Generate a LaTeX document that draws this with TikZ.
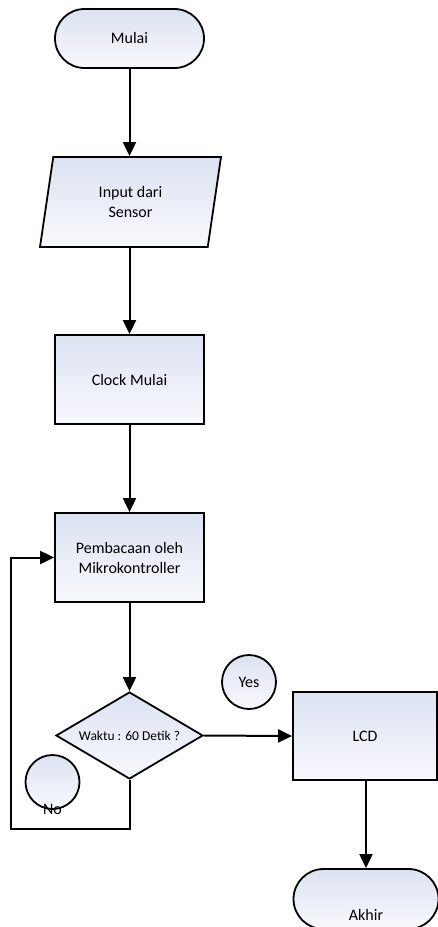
\documentclass[tikz,border=0pt]{standalone}
\usepackage{fontspec}
\setmainfont{Carlito}
\usetikzlibrary{shapes.geometric,shapes.misc,arrows.meta}
\definecolor{fillA}{RGB}{220,226,241}
\definecolor{fillB}{RGB}{248,249,253}
\tikzset{
  base/.style={draw=black, line width=1.8pt, top color=fillA, bottom color=fillB, font=\fontsize{16}{20}\selectfont, align=center, inner sep=0pt},
  term/.style={base, rounded rectangle},
  proc/.style={base, rectangle},
  io/.style={base, trapezium, trapezium left angle=67, trapezium right angle=113, trapezium stretches body=true},
  dec/.style={base, diamond, font=\fontsize{13.5}{16}\selectfont},
  conn/.style={base, circle, minimum size=54pt},
  arr/.style={line width=2pt, -{Triangle[length=14pt,width=13pt]}},
  ln/.style={line width=2pt}
}
\begin{document}
\begin{tikzpicture}[x=1pt,y=-1pt]
\useasboundingbox[fill=white] (0,0) rectangle (438,927);
\node[term, minimum width=149pt, minimum height=59pt] (mulai) at (129.5,38.5) {Mulai};
\node[io, minimum width=181pt, minimum height=90pt] (input) at (130.5,202) {Input dari\\Sensor};
\node[proc, minimum width=149pt, minimum height=89pt] (clock) at (129.5,379.5) {Clock Mulai};
\node[proc, minimum width=149pt, minimum height=89pt] (baca) at (129.5,557.5) {Pembacaan oleh\\Mikrokontroller};
\node[dec, minimum width=147pt, minimum height=87pt, aspect=1.69] (waktu) at (129.5,735.5) {Waktu : 60 Detik ?};
\node[proc, minimum width=144pt, minimum height=88pt] (lcd) at (365,736) {LCD};
\node[conn] (yes) at (249,682) {Yes};
\node[conn, label={[anchor=center, font=\fontsize{16}{20}\selectfont]south:No}] (no) at (52.5,782) {};
\node[term, minimum width=145pt, minimum height=60pt, label={[anchor=center, yshift=-16pt, font=\fontsize{16}{20}\selectfont]center:Akhir}] (akhir) at (366,899) {};
\coordinate (lp) at (11,829);
\draw[arr] (mulai.south) -- (mulai.south |- input.north);
\draw[arr] (input.south -| clock.north) -- (clock.north);
\draw[arr] (clock.south) -- (baca.north);
\draw[arr] (baca.south) -- (waktu.north);
\draw[arr] (waktu.east) -- (lcd.west);
\draw[arr] (lcd.south -| akhir.north) -- (akhir.north);
\draw[arr] (waktu.south) |- (lp) |- (baca.west);
\end{tikzpicture}
\end{document}
